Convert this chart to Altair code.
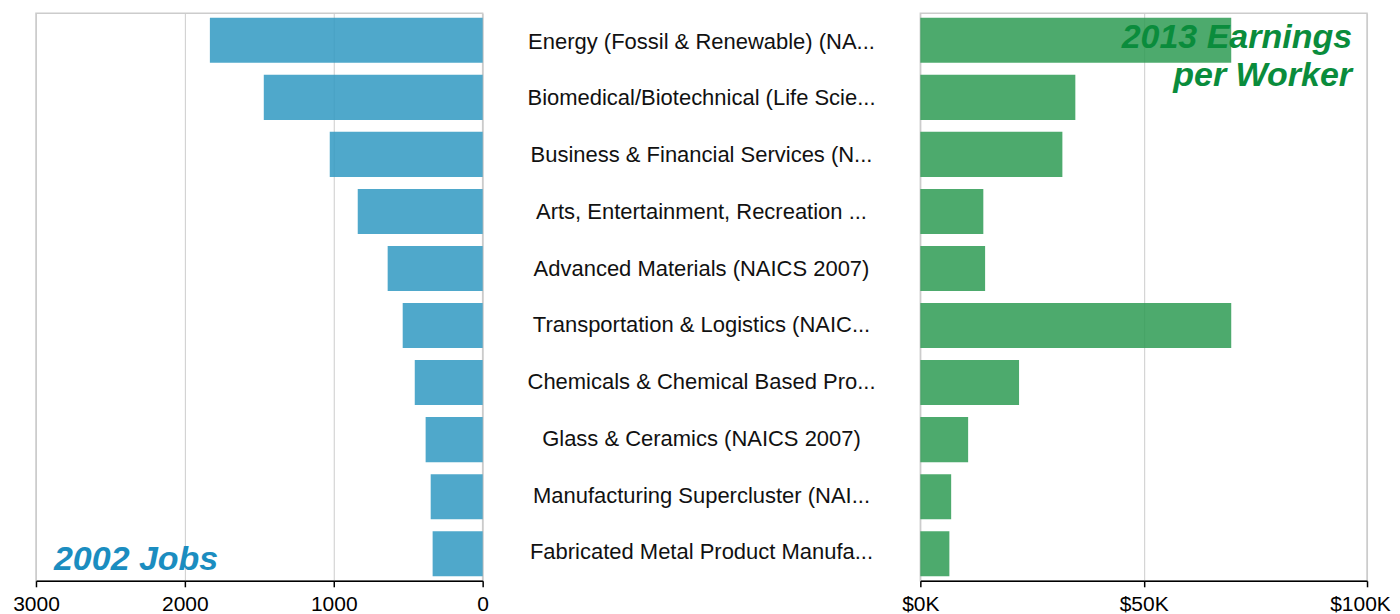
import altair as alt
import pandas as pd

# ---- data ----
categories = [
    "Energy (Fossil & Renewable) (NA...",
    "Biomedical/Biotechnical (Life Scie...",
    "Business & Financial Services (N...",
    "Arts, Entertainment, Recreation ...",
    "Advanced Materials (NAICS 2007)",
    "Transportation & Logistics (NAIC...",
    "Chemicals & Chemical Based Pro...",
    "Glass & Ceramics (NAICS 2007)",
    "Manufacturing Supercluster (NAI...",
    "Fabricated Metal Product Manufa...",
]
jobs_2002 = [1832, 1470, 1027, 839, 638, 537, 456, 383, 349, 336]
earnings_2013 = [69600, 34700, 31800, 14100, 14500, 69600, 22100, 10700, 6900, 6500]

jobs_ticks = [0, 1000, 2000, 3000]
earn_ticks = [0, 50000, 100000]

df = pd.DataFrame({"cluster": categories, "jobs": jobs_2002, "earn": earnings_2013})

FONT = "Liberation Sans"
W_SIDE = 447
W_MID = 438
H = 568

yenc = alt.Y(
    "cluster:N",
    sort=categories,
    axis=None,
    scale=alt.Scale(paddingInner=0.21, paddingOuter=0.08),
)

one_row = alt.Data(values=[{"a": 1}])

# ---- left panel: 2002 jobs ----
left_bars = alt.Chart(df).mark_bar(color="#3099C2", opacity=0.85).encode(
    x=alt.X(
        "jobs:Q",
        scale=alt.Scale(domain=[0, 3000], reverse=True, nice=False),
        axis=alt.Axis(values=jobs_ticks, title=None, grid=True, format="d", labelFlush=False),
    ),
    y=yenc,
)
left_title = alt.Chart(one_row).mark_text(
    text="2002 Jobs", font=FONT, fontSize=34, fontWeight="bold", fontStyle="italic",
    color="#1b8dc0", align="left", baseline="alphabetic",
).encode(x=alt.value(18), y=alt.value(557))
left = alt.layer(left_bars, left_title).properties(width=W_SIDE, height=H)

# ---- middle: labels ----
mid = alt.Chart(df).mark_text(
    font=FONT, fontSize=22, color="#111111", align="center", baseline="middle"
).encode(
    y=yenc, x=alt.value(W_MID / 2), text="cluster:N"
).properties(width=W_MID, height=H, view=alt.ViewBackground(strokeOpacity=0))

# ---- right panel: 2013 earnings ----
right_bars = alt.Chart(df).mark_bar(color="#2E9B54", opacity=0.85).encode(
    x=alt.X(
        "earn:Q",
        scale=alt.Scale(domain=[0, 100000], nice=False),
        axis=alt.Axis(
            values=earn_ticks, title=None, grid=True, labelFlush=False,
            labelExpr="'$' + format(datum.value / 1000, 'd') + 'K'",
            labelOffset={"condition": {"test": "datum.value == 100000", "value": -7}, "value": 0},
        ),
    ),
    y=yenc,
)
right_title = alt.Chart(one_row).mark_text(
    text=["2013 Earnings", "per Worker"], font=FONT, fontSize=34, fontWeight="bold",
    fontStyle="italic", color="#0a8c3c", align="right", baseline="alphabetic", lineHeight=38,
).encode(x=alt.value(432), y=alt.value(35))
right = alt.layer(right_bars, right_title).properties(width=W_SIDE, height=H)

chart = alt.hconcat(left, mid, right, spacing=0, bounds="flush").configure_view(
    stroke="#cccccc", strokeWidth=1.5
).configure_axis(
    labelFont=FONT, labelFontSize=21, labelColor="#000000",
    domainColor="#000000", domainWidth=1.5, tickColor="#000000", tickSize=6, tickWidth=1.5,
    gridColor="#cccccc", gridWidth=1, labelPadding=7,
).properties(padding={"left": 3, "top": 4, "right": 0, "bottom": 0})

chart.save("out.html", embed_options={"renderer": "svg", "actions": False})
